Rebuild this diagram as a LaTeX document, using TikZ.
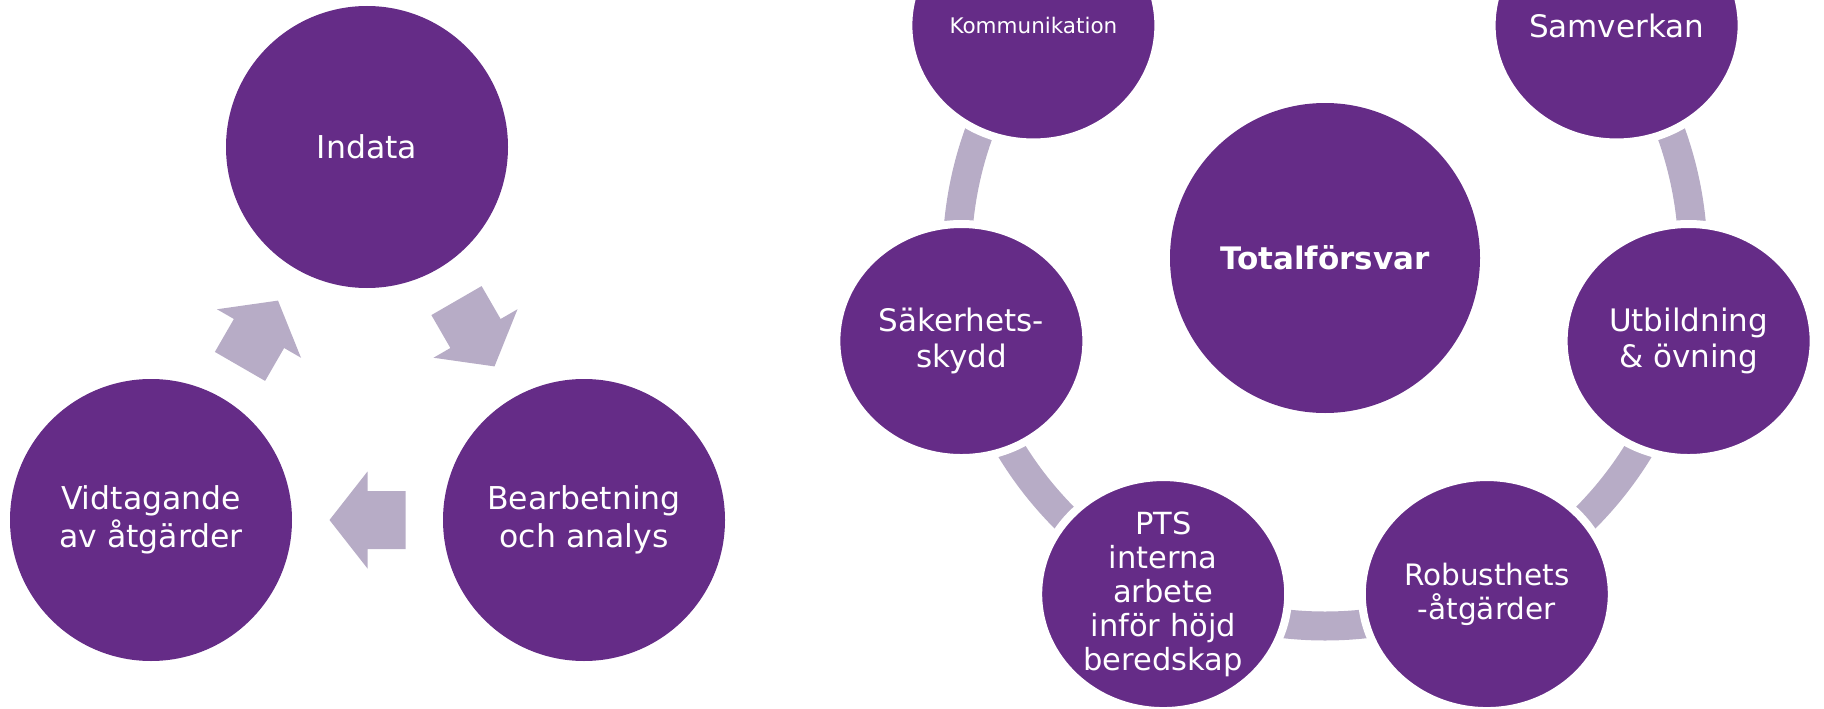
\documentclass[tikz,border=0pt]{standalone}
\usepackage{fontspec}
\setmainfont{DejaVu Sans}
\usetikzlibrary{calc,shapes.geometric}
\definecolor{vio}{RGB}{101,44,135}
\definecolor{lila}{RGB}{183,172,198}
\tikzset{
  blockarrow/.pic={\fill[lila] (38,0) -- (0,48.5) -- (0,29) -- (-38,29) -- (-38,-29) -- (0,-29) -- (0,-48.5) -- cycle;},
}
\begin{document}
\begin{tikzpicture}[x=1pt,y=-1pt,
  bubble/.style={circle, fill=vio, text=white, minimum size=282pt, inner sep=0pt, align=center, font=\fontsize{31.5}{37.5}\selectfont},
  bigbubble/.style={circle, fill=vio, text=white, minimum size=310pt, inner sep=0pt, align=center, font=\fontsize{31}{36}\bfseries\selectfont},
  oval/.style={ellipse, fill=vio, draw=white, line width=8pt, minimum width=250pt, minimum height=234pt, inner sep=0pt, text=white, align=center, font=\fontsize{31}{35.5}\selectfont},
  ring/.style={draw=lila, line width=29pt}
]
\useasboundingbox (0,0) rectangle (1824,709);
\clip (0,0) rectangle (1824,709);

% left cycle
\node[bubble] (ind) at (367,147) {Indata};
\node[bubble] (bea) at (584,520) {Bearbetning\\och analys};
\node[bubble] (vid) at (151,520) {Vidtagande\\av åtgärder};
\path ($(vid)!0.5!(ind)$) pic[rotate=60] {blockarrow};
\path ($(ind)!0.5!(bea)$) pic[rotate=-60] {blockarrow};
\path ($(bea)!0.5!(vid)$) pic[rotate=180] {blockarrow};

% right cycle
\node[bigbubble] (tot) at (1325,258) {Totalförsvar};
\foreach \m in {167.14, 218.57, 270, 321.43, 12.86}{
  \draw[ring] (tot.center) ++(\m-10:368pt) arc[start angle=\m-10, end angle=\m+10, radius=368pt];
}
\node[oval, font=\fontsize{21.5}{25}\selectfont] (kom) at ($(tot.center)+(141.43:373pt)$) {Kommunikation};
\node[oval] (sam) at ($(tot.center)+(38.57:373pt)$) {Samverkan};
\node[oval] (sak) at ($(tot.center)+(192.86:373pt)$) {Säkerhets-\\skydd};
\node[oval] (utb) at ($(tot.center)+(-12.86:373pt)$) {Utbildning\\\& övning};
\node[oval, font=\fontsize{30.5}{34}\selectfont] (pts) at ($(tot.center)+(-115.71:373pt)$) {PTS\\interna\\arbete\\inför höjd\\beredskap};
\node[oval, font=\fontsize{29.5}{34}\selectfont] (rob) at ($(tot.center)+(-64.29:373pt)$) {Robusthets\\-åtgärder};
\end{tikzpicture}
\end{document}
